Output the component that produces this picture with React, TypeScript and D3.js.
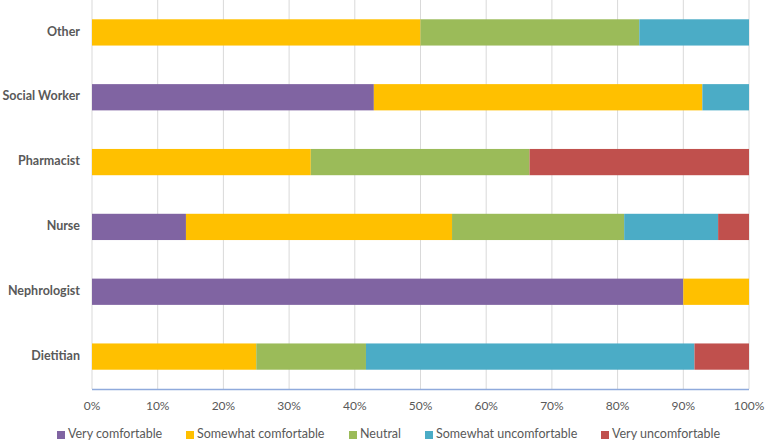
import React, { useEffect, useRef } from "react";
import * as d3 from "d3";

const categories = ["Other", "Social Worker", "Pharmacist", "Nurse", "Nephrologist", "Dietitian"];
const seriesNames = ["Very comfortable", "Somewhat comfortable", "Neutral", "Somewhat uncomfortable", "Very uncomfortable"];
const seriesColors = ["#8064A2", "#FFC000", "#9BBB59", "#4BACC6", "#C0504D"];

// percent per category, in series order
const veryComfortable = [0, 42.9, 0, 14.3, 90, 0];
const somewhatComfortable = [50, 50, 33.3, 40.5, 10, 25];
const neutral = [33.3, 0, 33.3, 26.2, 0, 16.7];
const somewhatUncomfortable = [16.7, 7.1, 0, 14.3, 0, 50];
const veryUncomfortable = [0, 0, 33.4, 4.7, 0, 8.3];

const tickValues = [0, 10, 20, 30, 40, 50, 60, 70, 80, 90, 100];

const W = 766;
const H = 444;
const margin = { top: 0, right: 17, bottom: 55, left: 92 };
const font = "Lato, 'Open Sans', sans-serif";

export default function App() {
  const ref = useRef<SVGSVGElement>(null);

  useEffect(() => {
    const svg = d3.select(ref.current);
    svg.selectAll("*").remove();

    const width = W - margin.left - margin.right;
    const height = H - margin.top - margin.bottom;
    const g = svg.append("g").attr("transform", `translate(${margin.left},${margin.top})`);

    const rows = categories.map((c, i) => ({
      cat: c,
      vals: [veryComfortable[i], somewhatComfortable[i], neutral[i], somewhatUncomfortable[i], veryUncomfortable[i]],
    }));

    const x = d3.scaleLinear().domain([0, 100]).range([0, width]);
    const y = d3.scaleBand().domain(categories).range([0, height]).paddingInner(0.595).paddingOuter(0.2975);

    // gridlines
    g.selectAll(".grid")
      .data(tickValues)
      .join("line")
      .attr("x1", (d) => x(d))
      .attr("x2", (d) => x(d))
      .attr("y1", 0)
      .attr("y2", height)
      .attr("stroke", "#D9D9D9")
      .attr("stroke-width", 1);

    // stacked bars
    rows.forEach((r) => {
      let acc = 0;
      r.vals.forEach((v, k) => {
        if (v > 0) {
          g.append("rect")
            .attr("x", x(acc))
            .attr("y", y(r.cat)!)
            .attr("width", x(acc + v) - x(acc))
            .attr("height", y.bandwidth())
            .attr("fill", seriesColors[k]);
        }
        acc += v;
      });
    });

    // baseline
    g.append("line")
      .attr("x1", 0)
      .attr("x2", width)
      .attr("y1", height + 0.5)
      .attr("y2", height + 0.5)
      .attr("stroke", "#8FAADC")
      .attr("stroke-width", 1.5);

    // x tick labels
    g.selectAll(".tick")
      .data(tickValues)
      .join("text")
      .attr("x", (d) => x(d))
      .attr("y", height + 18)
      .attr("text-anchor", "middle")
      .attr("dominant-baseline", "middle")
      .attr("font-family", font)
      .attr("font-size", 12)
      .attr("fill", "#595959")
      .text((d) => d + "%");

    // category labels
    g.selectAll(".cat")
      .data(categories)
      .join("text")
      .attr("x", -12)
      .attr("y", (d) => y(d)! + y.bandwidth() / 2)
      .attr("text-anchor", "end")
      .attr("dominant-baseline", "middle")
      .attr("font-family", font)
      .attr("font-size", 12.5)
      .attr("font-weight", "bold")
      .attr("fill", "#595959")
      .text((d) => d);

    // legend
    const legendX = [57, 186, 349, 425, 601];
    const lg = svg.append("g").attr("transform", `translate(0,${H - 9})`);
    seriesNames.forEach((s, k) => {
      lg.append("rect")
        .attr("x", legendX[k])
        .attr("y", -4)
        .attr("width", 8)
        .attr("height", 8)
        .attr("fill", seriesColors[k]);
      lg.append("text")
        .attr("x", legendX[k] + 11)
        .attr("y", 0)
        .attr("dominant-baseline", "middle")
        .attr("font-family", font)
        .attr("font-size", 12.5)
        .attr("fill", "#595959")
        .text(s);
    });
  }, []);

  return (
    <svg ref={ref} width={W} height={H} style={{ position: "absolute", left: 0, top: 0, background: "#fff" }} />
  );
}
